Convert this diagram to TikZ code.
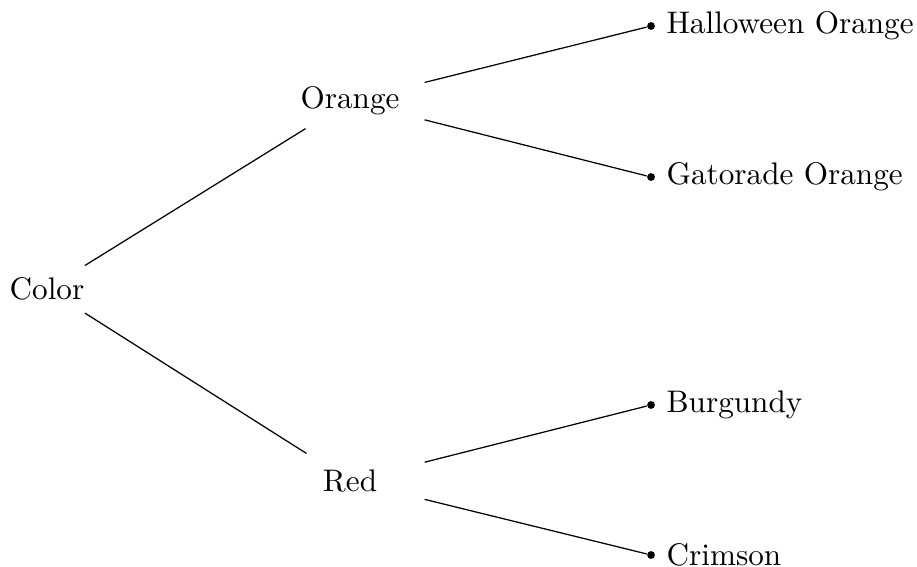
\documentclass[tikz,border=0pt]{standalone}
\begin{document}
\tikzset{
  colornode/.style={inner sep=0pt,minimum width=1.667cm,minimum height=0.608cm},
  rootnode/.style={inner sep=0pt,minimum width=0.811cm,minimum height=0.608cm},
  dotnode/.style={circle,fill,inner sep=0pt,minimum size=2.5pt,label distance=1pt}
}
\begin{tikzpicture}
\useasboundingbox (0,0) rectangle (10.33,-6.387);

\node[rootnode] (color) at (0.529,-3.256) {Color};
\node[colornode] (orange) at (3.943,-1.138) {Orange};
\node[colornode] (red) at (3.943,-5.419) {Red};

\node[dotnode,label=right:Halloween Orange] (halloween) at (7.334,-0.293) {};
\node[dotnode,label=right:Gatorade Orange] (gatorade) at (7.334,-1.994) {};
\node[dotnode,label=right:Burgundy] (burgundy) at (7.334,-4.562) {};
\node[dotnode,label=right:Crimson] (crimson) at (7.334,-6.252) {};

\draw (color) -- (orange);
\draw (color) -- (red);
\draw (orange) -- (halloween);
\draw (orange) -- (gatorade);
\draw (red) -- (burgundy);
\draw (red) -- (crimson);
\end{tikzpicture}
\end{document}
